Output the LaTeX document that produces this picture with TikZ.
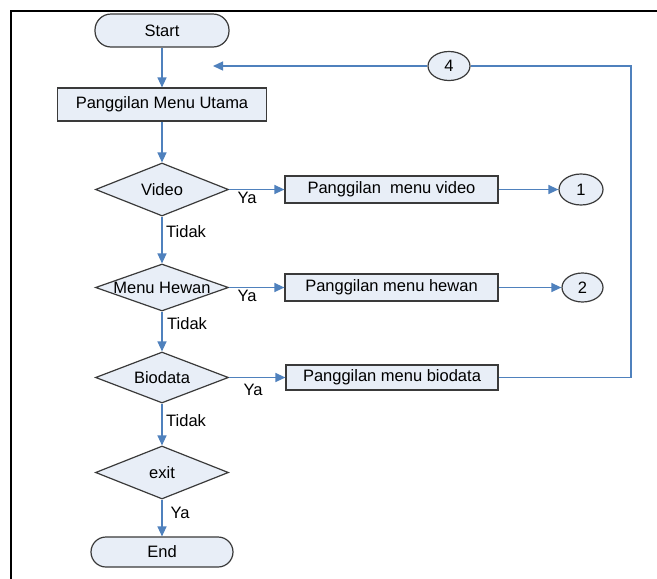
\documentclass[tikz,border=0pt]{standalone}
\usepackage{fontspec}
\setmainfont{Liberation Sans}
\usetikzlibrary{shapes.geometric,arrows.meta}
\definecolor{fillb}{HTML}{E8EEF7}
\definecolor{edgeg}{HTML}{3A3A3A}
\definecolor{lineb}{HTML}{4F81BD}
\tikzset{
  every node/.style={font=\fontsize{16.5}{19}\selectfont},
  term/.style={draw=edgeg, fill=fillb, line width=1.2pt, rounded corners=16pt, inner sep=0pt},
  proc/.style={draw=edgeg, fill=fillb, line width=1.2pt, inner sep=0pt, minimum width=213pt},
  dec/.style={diamond, draw=edgeg, fill=fillb, line width=1.2pt, inner sep=0pt, aspect=2.5, minimum width=133pt, minimum height=53pt},
  conn/.style={draw=edgeg, fill=fillb, line width=1.2pt, ellipse, inner sep=0pt},
  wire/.style={draw=lineb, line width=1.3pt},
  arr/.style={wire, -{Triangle[length=10pt,width=9pt]}},
  lbl/.style={inner sep=0pt, text=black}
}
\begin{document}
\begin{tikzpicture}[x=1pt,y=-1pt]
\useasboundingbox (0,0) rectangle (657,579);
\fill[white] (0,0) rectangle (657,579);
\draw[black, line width=2.5pt] (11,579) -- (11,11) -- (657,11);

\node[term, minimum width=134pt, minimum height=33pt] (start) at (162,30.5) {Start};
\node[proc, minimum width=209pt, minimum height=33pt] (menu) at (162,104.5) {Panggilan Menu Utama};

\node[dec] (video) at (162,189.5) {\makebox[0pt]{Video}};
\node[dec, minimum height=47pt] (hewan) at (162,287.5) {\makebox[0pt]{Menu Hewan}};
\node[dec, minimum height=51pt] (bio) at (162,377.5) {\makebox[0pt]{Biodata}};
\node[dec] (exit) at (162,472.5) {\makebox[0pt]{exit}};
\node[term, minimum width=142pt, minimum height=30pt, rounded corners=15pt] (end) at (162,552) {End};

\node[proc, minimum height=27pt] (pv) at (391.5,189.5) {Panggilan\ \ menu video};
\node[proc, minimum height=27pt] (ph) at (391.5,287.5) {Panggilan menu hewan};
\node[proc, minimum height=25pt, minimum width=212pt] (pb) at (392,377.5) {Panggilan menu biodata};

\node[conn, minimum width=44pt, minimum height=31pt] (c1) at (581,189.5) {1};
\node[conn, minimum width=41pt, minimum height=29pt] (c2) at (582.5,287.5) {2};
\node[conn, minimum width=42pt, minimum height=29pt] (c4) at (449,66) {4};

\coordinate (rc) at (631,66);
\coordinate (ret) at (213,66);

\draw[arr] (start) -- (menu);
\draw[arr] (menu) -- (video);
\draw[arr] (video) -- (hewan);
\draw[arr] (hewan) -- (bio);
\draw[arr] (bio) -- (exit);
\draw[arr] (exit) -- (end);
\draw[arr] (video) -- (pv);
\draw[arr] (hewan) -- (ph);
\draw[arr] (bio) -- (pb);
\draw[arr] (pv) -- (c1);
\draw[arr] (ph) -- (c2);
\draw[wire] (pb.east) -| (rc) -- (c4.east);
\draw[arr] (c4.west) -- (ret);

\node[lbl] (ya1) at (247,198) {Ya};
\node[lbl] (ya2) at (247,296) {Ya};
\node[lbl] (ya3) at (253,390) {Ya};
\node[lbl] (ya4) at (180,513) {Ya};
\node[lbl, anchor=west] (td1) at (166,232) {Tidak};
\node[lbl, anchor=west] (td2) at (167,324) {Tidak};
\node[lbl, anchor=west] (td3) at (166,421) {Tidak};
\end{tikzpicture}
\end{document}
